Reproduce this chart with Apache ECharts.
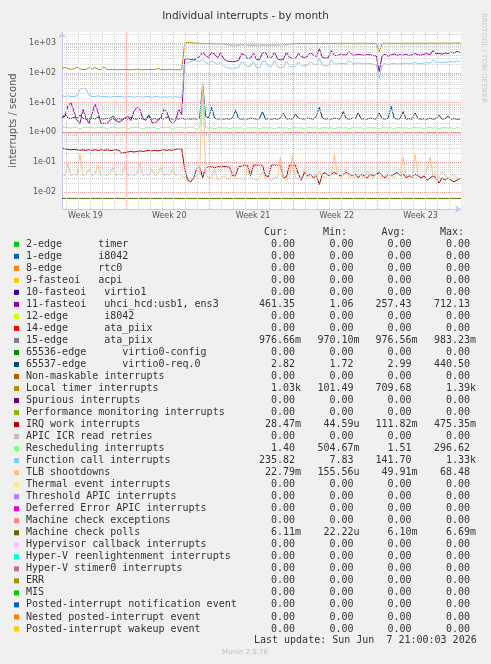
<!DOCTYPE html>
<html>
<head>
<meta charset="utf-8">
<title>Individual interrupts - by month</title>
<script src="https://cdn.jsdelivr.net/npm/echarts@6/dist/echarts.min.js"></script>
<style>
html, body { margin: 0; padding: 0; background: #f0f0f0; }
#chart { width: 491px; height: 664px; }
</style>
</head>
<body>
<div id="chart"></div>
<script>
// x is hours since Monday 00:00 of week 19, one sample every 6 hours
var startHour = 40;
var endHour = 840;
var stepHours = 6;

var weekTicks = [87, 255, 423, 591, 759];
var weekLabels = ['Week 19', 'Week 20', 'Week 21', 'Week 22', 'Week 23'];
var weekStarts = [168, 336, 504, 672];

// 11-fasteoi uhci_hcd:usb1, ens3
var fasteoi11 = [
    3, 3.5, 8, 10, 5, 2.5, 2, 6, 3, 2,
    4, 9, 5, 2, 2, 2, 2.5, 3, 2.5, 2.2,
    2.5, 3, 3.5, 2.5, 5, 7, 6, 3, 2.5, 4,
    2.2, 2, 2.5, 3, 6, 5, 2.5, 2, 2.5, 6,
    4, 280, 300, 280, 270, 300, 350, 500, 380, 320,
    480, 420, 320, 470, 300, 250, 240, 235, 240, 260,
    440, 400, 300, 310, 450, 280, 270, 470, 480, 300,
    320, 500, 300, 270, 280, 500, 330, 300, 310, 450,
    340, 330, 350, 480, 400, 350, 640, 330, 310, 320,
    560, 380, 380, 420, 400, 400, 520, 400, 390, 420,
    400, 390, 410, 400, 380, 370, 110, 380, 420, 360,
    400, 430, 380, 410, 390, 420, 380, 400, 440, 400,
    390, 420, 440, 400, 560, 430, 450, 420, 470, 440,
    500, 460, 520, 480
];

// 65537-edge virtio0-req.0
var virtioReq = [
    3.0, 4.2, 3.0, 2.9, 3.2, 2.9, 3.8, 3.0, 2.8, 2.9,
    3.0, 2.8, 3.3, 2.9, 2.8, 3.0, 2.9, 3.5, 2.8, 2.9,
    2.8, 3.0, 2.8, 3.2, 2.9, 2.8, 3.0, 2.8, 2.9, 3.4,
    2.8, 2.9, 2.8, 3.0, 2.8, 3.3, 2.9, 2.8, 3.0, 2.8,
    3.0, 2.8, 2.9, 2.8, 2.9, 2.8, 3.0, 40, 3.5, 3.0,
    7.0, 3.0, 2.8, 2.9, 2.8, 2.9, 2.8, 3.0, 5.5, 2.9,
    2.8, 2.9, 2.8, 3.0, 2.9, 2.8, 2.9, 5.0, 2.8, 2.9,
    2.8, 2.9, 2.8, 3.0, 4.5, 2.8, 2.9, 2.8, 4.2, 3.0,
    2.9, 2.8, 3.0, 2.9, 2.8, 3.5, 7.0, 3.0, 2.8, 2.9,
    2.8, 3.0, 2.9, 2.8, 5.0, 2.9, 2.8, 3.0, 2.9, 4.5,
    2.8, 2.9, 2.8, 3.0, 2.9, 2.8, 4.5, 2.9, 2.8, 3.0,
    7.5, 3.0, 2.8, 2.9, 5.0, 2.8, 2.9, 2.8, 4.5, 2.9,
    2.8, 2.9, 2.8, 3.0, 2.8, 2.9, 3.8, 2.8, 2.9, 3.5,
    2.8, 2.9, 2.8, 2.8
];

// Local timer interrupts
var localTimer = [
    140, 150, 138, 130, 135, 155, 132, 130, 128, 150,
    132, 150, 130, 128, 155, 130, 128, 130, 126, 128,
    128, 130, 127, 126, 128, 132, 128, 126, 130, 128,
    130, 128, 140, 128, 127, 128, 130, 128, 126, 128,
    125, 1020, 1060, 1040, 1000, 990, 980, 960, 950, 940,
    940, 930, 925, 920, 920, 880, 860, 850, 860, 850,
    870, 880, 860, 850, 850, 860, 850, 850, 860, 850,
    860, 850, 870, 860, 880, 870, 900, 940, 950, 960,
    960, 970, 960, 965, 960, 970, 960, 970, 975, 965,
    970, 975, 970, 975, 970, 975, 980, 975, 970, 975,
    975, 980, 975, 970, 970, 960, 520, 950, 980, 975,
    980, 980, 975, 980, 985, 975, 980, 980, 975, 980,
    985, 980, 980, 985, 990, 980, 985, 990, 985, 990,
    985, 990, 995, 1000
];

// IRQ work interrupts
var irqWork = [
    0.30, 0.28, 0.27, 0.26, 0.27, 0.26, 0.25, 0.26, 0.25, 0.26,
    0.25, 0.26, 0.25, 0.26, 0.25, 0.26, 0.25, 0.25, 0.26, 0.25,
    0.20, 0.21, 0.22, 0.23, 0.22, 0.23, 0.24, 0.23, 0.24, 0.25,
    0.24, 0.25, 0.24, 0.25, 0.26, 0.25, 0.26, 0.25, 0.27, 0.28,
    0.28, 0.06, 0.025, 0.022, 0.03, 0.06, 0.07, 0.03, 0.065, 0.07,
    0.07, 0.065, 0.07, 0.07, 0.072, 0.07, 0.068, 0.035, 0.035, 0.07,
    0.075, 0.08, 0.078, 0.035, 0.08, 0.08, 0.078, 0.08, 0.035, 0.033,
    0.08, 0.08, 0.078, 0.08, 0.03, 0.032, 0.08, 0.078, 0.08, 0.04,
    0.025, 0.045, 0.035, 0.04, 0.03, 0.035, 0.018, 0.04, 0.045, 0.035,
    0.04, 0.045, 0.04, 0.035, 0.04, 0.045, 0.04, 0.035, 0.04, 0.03,
    0.04, 0.035, 0.03, 0.04, 0.035, 0.04, 0.045, 0.035, 0.03, 0.04,
    0.035, 0.04, 0.045, 0.035, 0.04, 0.03, 0.035, 0.03, 0.04, 0.035,
    0.03, 0.035, 0.025, 0.03, 0.035, 0.03, 0.02, 0.03, 0.025, 0.03,
    0.025, 0.022, 0.025, 0.028
];

// Rescheduling interrupts
var resched = [
    1.45, 1.5, 1.45, 1.4, 1.5, 1.45, 1.3, 1.45, 1.5, 1.45,
    1.45, 1.4, 1.5, 1.45, 1.45, 1.3, 1.45, 1.5, 1.45, 1.4,
    1.45, 1.5, 1.3, 1.45, 1.45, 1.5, 1.45, 1.3, 1.45, 1.5,
    1.45, 1.45, 1.3, 1.45, 1.5, 1.45, 1.45, 1.3, 1.45, 1.5,
    1.45, 1.4, 1.45, 1.5, 1.45, 1.3, 1.45, 28, 1.45, 1.4,
    1.45, 1.3, 1.45, 1.45, 1.4, 1.45, 1.3, 1.45, 1.45, 1.4,
    1.45, 1.3, 1.45, 1.4, 1.45, 1.45, 1.3, 1.45, 1.45, 1.4,
    1.45, 1.3, 1.45, 1.45, 1.4, 1.45, 1.3, 1.45, 1.45, 1.4,
    1.45, 1.3, 1.45, 1.45, 1.4, 1.45, 1.3, 1.45, 1.45, 1.4,
    1.45, 1.3, 1.45, 1.45, 1.4, 1.45, 1.3, 1.45, 1.45, 1.4,
    1.45, 1.3, 1.45, 1.45, 1.4, 1.45, 1.3, 1.45, 1.45, 1.4,
    1.45, 1.3, 1.45, 1.45, 1.4, 1.45, 1.3, 1.45, 1.45, 1.4,
    1.45, 1.3, 1.45, 1.45, 1.4, 1.45, 1.3, 1.45, 1.45, 1.4,
    1.45, 1.3, 1.45, 1.4
];

// Function call interrupts
var funcCall = [
    17, 16, 17, 16, 16, 17, 28, 30, 30, 18,
    16, 16, 17, 16, 16, 16, 15, 16, 16, 16,
    16, 15, 16, 16, 15, 16, 16, 15, 16, 16,
    15, 16, 16, 15, 16, 15, 16, 15, 16, 15,
    15, 180, 210, 230, 260, 250, 240, 280, 220, 200,
    250, 220, 190, 230, 170, 150, 145, 140, 145, 150,
    230, 210, 160, 165, 240, 150, 145, 240, 250, 160,
    165, 255, 160, 145, 150, 250, 170, 160, 165, 230,
    175, 170, 180, 240, 200, 185, 300, 180, 170, 175,
    270, 200, 195, 210, 205, 200, 260, 205, 200, 215,
    205, 200, 210, 205, 195, 190, 65, 190, 205, 190,
    200, 210, 195, 205, 200, 215, 200, 205, 225, 205,
    200, 215, 220, 205, 270, 220, 225, 215, 230, 225,
    240, 230, 250, 240
];

// TLB shootdowns
var tlb = [
    0.04, 0.035, 0.09, 0.035, 0.04, 0.035, 0.18, 0.035, 0.04, 0.06,
    0.035, 0.04, 0.08, 0.035, 0.04, 0.035, 0.04, 0.07, 0.035, 0.04,
    0.035, 0.08, 0.035, 0.04, 0.035, 0.04, 0.09, 0.035, 0.04, 0.035,
    0.06, 0.035, 0.04, 0.07, 0.035, 0.04, 0.035, 0.06, 0.035, 0.04,
    0.035, 0.03, 0.025, 0.028, 0.03, 0.035, 0.04, 50, 0.04, 0.03,
    0.03, 0.06, 0.025, 0.028, 0.035, 0.03, 0.025, 0.05, 0.03, 0.028,
    0.03, 0.025, 0.06, 0.03, 0.028, 0.025, 0.03, 0.05, 0.028, 0.03,
    0.025, 0.03, 0.03, 0.15, 0.03, 0.025, 0.03, 0.17, 0.03, 0.028,
    0.03, 0.06, 0.03, 0.035, 0.04, 0.03, 0.05, 0.035, 0.03, 0.04,
    0.035, 0.18, 0.04, 0.03, 0.035, 0.06, 0.03, 0.035, 0.03, 0.04,
    0.035, 0.03, 0.05, 0.035, 0.03, 0.04, 0.035, 0.03, 0.035, 0.04,
    0.035, 0.03, 0.04, 0.035, 0.15, 0.035, 0.04, 0.03, 0.18, 0.035,
    0.04, 0.035, 0.06, 0.15, 0.035, 0.04, 0.03, 0.05, 0.035, 0.03,
    0.035, 0.04, 0.03, 0.025
];

// flat series: two end points only
var flatHours = [40, 840];
var ataPiix15 = [0.977, 0.977];
var mcePolls = [0.0061, 0.0061];

// legend table
var legendNames = [
    '2-edge      timer', '1-edge      i8042', '8-edge      rtc0', '9-fasteoi   acpi',
    '10-fasteoi   virtio1', '11-fasteoi   uhci_hcd:usb1, ens3', '12-edge      i8042',
    '14-edge      ata_piix', '15-edge      ata_piix', '65536-edge      virtio0-config',
    '65537-edge      virtio0-req.0', 'Non-maskable interrupts', 'Local timer interrupts',
    'Spurious interrupts', 'Performance monitoring interrupts', 'IRQ work interrupts',
    'APIC ICR read retries', 'Rescheduling interrupts', 'Function call interrupts',
    'TLB shootdowns', 'Thermal event interrupts', 'Threshold APIC interrupts',
    'Deferred Error APIC interrupts', 'Machine check exceptions', 'Machine check polls',
    'Hypervisor callback interrupts', 'Hyper-V reenlightenment interrupts',
    'Hyper-V stimer0 interrupts', 'ERR', 'MIS', 'Posted-interrupt notification event',
    'Nested posted-interrupt event', 'Posted-interrupt wakeup event'
];
var legendColors = [
    '#00CC00', '#0066B3', '#FF8000', '#FFCC00', '#330099', '#990099', '#CCFF00', '#FF0000',
    '#808080', '#008F00', '#00487D', '#B35A00', '#B38F00', '#6B006B', '#8FB300', '#B30000',
    '#BEBEBE', '#80FF80', '#80C9FF', '#FFC080', '#FFE680', '#AA80FF', '#EE00CC', '#FF8080',
    '#666600', '#FFBFFF', '#00FFCC', '#CC6699', '#999900', '#00CC00', '#0066B3', '#FF8000',
    '#FFCC00'
];
var curVals = ['0.00', '0.00', '0.00', '0.00', '0.00', '461.35', '0.00', '0.00', '976.66m', '0.00',
    '2.82', '0.00', '1.03k', '0.00', '0.00', '28.47m', '0.00', '1.40', '235.82', '22.79m',
    '0.00', '0.00', '0.00', '0.00', '6.11m', '0.00', '0.00', '0.00', '0.00', '0.00',
    '0.00', '0.00', '0.00'];
var minVals = ['0.00', '0.00', '0.00', '0.00', '0.00', '1.06', '0.00', '0.00', '970.10m', '0.00',
    '1.72', '0.00', '101.49', '0.00', '0.00', '44.59u', '0.00', '504.67m', '7.83', '155.56u',
    '0.00', '0.00', '0.00', '0.00', '22.22u', '0.00', '0.00', '0.00', '0.00', '0.00',
    '0.00', '0.00', '0.00'];
var avgVals = ['0.00', '0.00', '0.00', '0.00', '0.00', '257.43', '0.00', '0.00', '976.56m', '0.00',
    '2.99', '0.00', '709.68', '0.00', '0.00', '111.82m', '0.00', '1.51', '141.70', '49.91m',
    '0.00', '0.00', '0.00', '0.00', '6.10m', '0.00', '0.00', '0.00', '0.00', '0.00',
    '0.00', '0.00', '0.00'];
var maxVals = ['0.00', '0.00', '0.00', '0.00', '0.00', '712.13', '0.00', '0.00', '983.23m', '0.00',
    '440.50', '0.00', '1.39k', '0.00', '0.00', '475.35m', '0.00', '296.62', '1.33k', '68.48',
    '0.00', '0.00', '0.00', '0.00', '6.69m', '0.00', '0.00', '0.00', '0.00', '0.00',
    '0.00', '0.00', '0.00'];
var columnHeads = ['Cur:', 'Min:', 'Avg:', 'Max:'];

var yMin = 0.00269;
var yMax = 2340;

function pairs(vals) {
    return vals.map(function(v, i) { return [startHour + i * stepHours, v]; });
}

// grid lines: daily/weekly verticals, decade and sub-decade horizontals
var minorStyle = { color: '#d2d2d2', width: 1, type: [1, 1] };
var majorStyle = { color: '#eaa0a0', width: 1, type: [1, 1] };
var gridLines = [];
for (var h = 48; h < endHour; h += 24) {
    if (weekStarts.indexOf(h) < 0) gridLines.push({ xAxis: h, lineStyle: minorStyle });
}
for (var e = -3; e <= 3; e++) {
    for (var m = 2; m <= 9; m++) {
        var v = m * Math.pow(10, e);
        if (v > yMin && v < yMax) gridLines.push({ yAxis: v, lineStyle: minorStyle });
    }
}
[0.01, 0.1, 1, 10, 100, 1000].forEach(function(d) {
    gridLines.push({ yAxis: d, lineStyle: majorStyle });
});
weekStarts.forEach(function(w) {
    gridLines.push({ xAxis: w, lineStyle: majorStyle });
});
// zero-valued series sit on the bottom edge
gridLines.push({ yAxis: yMin, lineStyle: { color: '#ead79a', width: 1, type: 'solid' } });

function line(name, vals, color, xs) {
    return {
        name: name,
        type: 'line',
        data: xs ? vals.map(function(v, i) { return [xs[i], v]; }) : pairs(vals),
        symbol: 'none',
        silent: true,
        lineStyle: { width: 1, color: color },
        itemStyle: { color: color },
        z: 3
    };
}

// legend table drawn as text
var graphics = [];
var rowY0 = 244.3, rowH = 12.02;
var numX = [295, 353.5, 411.5, 470];
var headX = [288, 347, 405.5, 464];
var mono = '10px "DejaVu Sans Mono"';
columnHeads.forEach(function(t, c) {
    graphics.push({ type: 'text', x: headX[c], y: 232.3,
        style: { text: t, fill: '#333', font: mono, align: 'right', verticalAlign: 'middle' } });
});
legendNames.forEach(function(name, r) {
    var y = rowY0 + r * rowH;
    graphics.push({ type: 'rect', shape: { x: 14, y: y - 2.5, width: 5, height: 5 },
        style: { fill: legendColors[r] } });
    graphics.push({ type: 'text', x: 26, y: y,
        style: { text: name, fill: '#333', font: mono, align: 'left', verticalAlign: 'middle' } });
    [curVals, minVals, avgVals, maxVals].forEach(function(col, c) {
        var s = col[r];
        var suffix = /[a-z]$/.test(s) ? s.slice(-1) : '';
        var num = suffix ? s.slice(0, -1) : s;
        graphics.push({ type: 'text', x: numX[c], y: y,
            style: { text: num, fill: '#333', font: mono, align: 'right', verticalAlign: 'middle' } });
        if (suffix) {
            graphics.push({ type: 'text', x: numX[c], y: y,
                style: { text: suffix, fill: '#333', font: mono, align: 'left', verticalAlign: 'middle' } });
        }
    });
});
graphics.push({ type: 'text', x: 476.7, y: 640,
    style: { text: 'Last update: Sun Jun  7 21:00:03 2026', fill: '#333', font: mono,
        align: 'right', verticalAlign: 'middle' } });
graphics.push({ type: 'text', x: 245, y: 652,
    style: { text: 'Munin 2.0.76', fill: '#bdbdbd', font: '7px "DejaVu Sans"',
        align: 'center', verticalAlign: 'middle' } });
graphics.push({ type: 'text', x: 484, y: 13, rotation: -Math.PI / 2,
    style: { text: 'RRDTOOL / TOBI OETIKER', fill: '#c8c8c8', font: '7px "DejaVu Sans"',
        align: 'left', verticalAlign: 'middle' } });

var chart = echarts.init(document.getElementById('chart'));
var option = {
    animation: false,
    backgroundColor: '#f0f0f0',
    title: {
        text: 'Individual interrupts - by month',
        left: 'center',
        top: 6,
        textStyle: { fontFamily: 'DejaVu Sans', fontSize: 10.5, fontWeight: 'normal', color: '#333' }
    },
    grid: {
        left: 61, right: 30, top: 32, bottom: 455,
        show: true, backgroundColor: '#ffffff', borderWidth: 0
    },
    xAxis: {
        type: 'value',
        min: startHour,
        max: endHour,
        axisLine: { show: true, symbol: ['none', 'arrow'], symbolSize: [6, 6],
            lineStyle: { color: '#c4c8f4', width: 1 } },
        axisTick: { show: false },
        splitLine: { show: false },
        axisLabel: {
            customValues: weekTicks,
            margin: 3,
            color: '#555',
            fontFamily: 'DejaVu Sans',
            fontSize: 8,
            formatter: function(v) {
                var i = weekTicks.indexOf(v);
                return i >= 0 ? weekLabels[i] : '';
            }
        }
    },
    yAxis: {
        type: 'log',
        logBase: 10,
        min: yMin,
        max: yMax,
        name: 'interrupts / second',
        nameLocation: 'middle',
        nameGap: 44,
        nameTextStyle: { color: '#555', fontFamily: 'DejaVu Sans', fontSize: 10 },
        axisLine: { show: true, symbol: ['none', 'arrow'], symbolSize: [6, 6],
            lineStyle: { color: '#c4c8f4', width: 1 } },
        axisTick: { show: false },
        splitLine: { show: false },
        minorSplitLine: { show: false },
        axisLabel: {
            showMinLabel: false,
            showMaxLabel: false,
            margin: 6,
            color: '#555',
            fontFamily: 'DejaVu Sans',
            fontSize: 8,
            formatter: function(v) {
                var p = Math.round(Math.log10(v));
                return '1e' + (p < 0 ? '-' : '+') + (Math.abs(p) < 10 ? '0' : '') + Math.abs(p);
            }
        }
    },
    series: [
        {
            type: 'line', data: [], silent: true, z: 1,
            markLine: { silent: true, symbol: ['none', 'none'], animation: false,
                label: { show: false }, emphasis: { disabled: true }, data: gridLines }
        },
        line('11-fasteoi uhci_hcd:usb1, ens3', fasteoi11, '#990099'),
        line('15-edge ata_piix', ataPiix15, '#808080', flatHours),
        line('65537-edge virtio0-req.0', virtioReq, '#00487D'),
        line('Local timer interrupts', localTimer, '#B38F00'),
        line('IRQ work interrupts', irqWork, '#B30000'),
        line('Rescheduling interrupts', resched, '#80FF80'),
        line('Function call interrupts', funcCall, '#80C9FF'),
        line('TLB shootdowns', tlb, '#FFC080'),
        line('Machine check polls', mcePolls, '#666600', flatHours)
    ],
    graphic: graphics
};
chart.setOption(option);
</script>
</body>
</html>
